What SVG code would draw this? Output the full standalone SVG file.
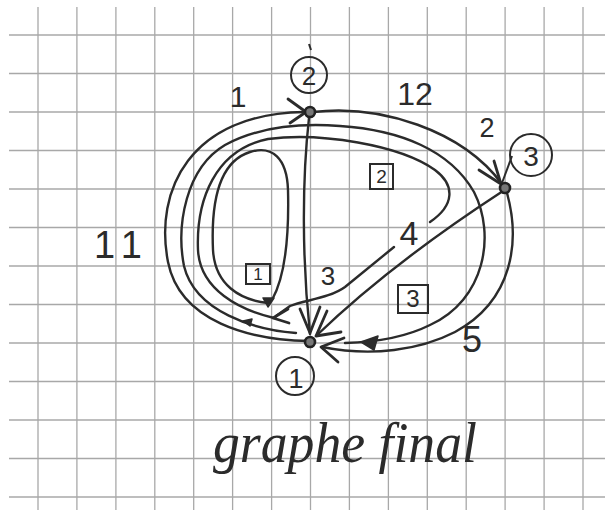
<svg xmlns="http://www.w3.org/2000/svg" width="605" height="510" viewBox="0 0 605 510">
<style>
.grid line{stroke:#a8a8a8;stroke-width:1.3}
.ln{fill:none;stroke:#2b2b2b;stroke-width:2.4;stroke-linecap:round;stroke-linejoin:round}
.ah{fill:none;stroke:#2b2b2b;stroke-width:2.8;stroke-linecap:round;stroke-linejoin:round}
.fh{fill:#2b2b2b;stroke:#2b2b2b;stroke-width:1.5;stroke-linejoin:round}
.dot{fill:#777;stroke:#222;stroke-width:2.6}
.lab{fill:none;stroke:#2b2b2b;stroke-width:2}
.t{font-family:"Liberation Sans",Arial,sans-serif;fill:#2b2b2b;text-anchor:middle}
.hw{font-family:"Liberation Serif","Times New Roman",serif;font-style:italic;fill:#2b2b2b}
</style>
<rect width="605" height="510" fill="#ffffff"/>
<g class="grid">
<line x1="9" y1="35" x2="605" y2="35"/><line x1="9" y1="73.5" x2="605" y2="73.5"/><line x1="9" y1="112" x2="605" y2="112"/><line x1="9" y1="150.5" x2="605" y2="150.5"/><line x1="9" y1="189" x2="605" y2="189"/><line x1="9" y1="227.5" x2="605" y2="227.5"/><line x1="9" y1="266" x2="605" y2="266"/><line x1="9" y1="304.5" x2="605" y2="304.5"/><line x1="9" y1="343" x2="605" y2="343"/><line x1="9" y1="381.5" x2="605" y2="381.5"/><line x1="9" y1="420" x2="605" y2="420"/><line x1="9" y1="458.5" x2="605" y2="458.5"/><line x1="9" y1="497" x2="605" y2="497"/>
<line x1="38" y1="7" x2="38" y2="510"/><line x1="76.9" y1="7" x2="76.9" y2="510"/><line x1="115.9" y1="7" x2="115.9" y2="510"/><line x1="154.8" y1="7" x2="154.8" y2="510"/><line x1="193.7" y1="7" x2="193.7" y2="510"/><line x1="232.6" y1="7" x2="232.6" y2="510"/><line x1="271.6" y1="7" x2="271.6" y2="510"/><line x1="310.5" y1="7" x2="310.5" y2="510"/><line x1="349.4" y1="7" x2="349.4" y2="510"/><line x1="388.4" y1="7" x2="388.4" y2="510"/><line x1="427.3" y1="7" x2="427.3" y2="510"/><line x1="466.2" y1="7" x2="466.2" y2="510"/><line x1="505.1" y1="7" x2="505.1" y2="510"/><line x1="544.1" y1="7" x2="544.1" y2="510"/><line x1="583" y1="7" x2="583" y2="510"/>
</g>
<g id="connectors">
<path id="arc1" class="ln" d="M309,341 C250,340 180,322 168,262 C154,190 190,114 304,112"/>
<path class="ah" d="M288,99 L306,112 L290,123"/>
<path id="arc2" class="ln" d="M313,112 C380,104 462,130 502,184"/>
<path class="ah" d="M479,170 L501,184 L494,161"/>
<path id="arc3" class="ln" d="M309,118 C302,180 302,260 310,334"/>
<path class="ah" d="M300,309 L310,333 L320,307"/>
<path id="arc4" class="ln" d="M503,191 C440,232 372,282 316,336"/>
<path class="ah" d="M327,311 L316,336 L341,332"/>
<path id="arc5" class="ln" d="M507,193 C520,240 514,300 455,332 C420,350 372,357 322,347"/>
<path class="ah" d="M344,338 L321,347 L338,362"/>
<path id="cycle3" class="ln" d="M296,333 C255,330 195,312 184,266 C176,225 186,168 225,145 C260,126 300,123 340,126 C400,130 450,150 474,192 C496,235 485,300 430,325 C410,335 385,342 345,343"/>
<path class="fh" d="M361,342 L378,336 L374,350 Z"/>
<path class="fh" d="M243,321 L252,319 L250,326 Z"/>
<path id="cycle2" class="ln" d="M274,318 C240,310 200,290 198,250 C196,200 215,150 268,139 C320,132 400,145 435,170 C455,185 455,205 430,222"/>
<path class="ln" d="M394,247 L345,287 C330,298 305,300 290,306 L276,316"/>
<path class="ah" d="M288,309 L273,318 L289,323"/>
<path id="cycle1" class="ln" d="M268,303 C240,300 215,285 213,250 C211,205 218,162 250,152 C272,145 287,158 288,190 C289,230 286,275 272,300"/>
<path class="fh" d="M263,298 L274,298 L268,307 Z"/>
</g>
<g id="node1">
<circle class="dot" cx="310" cy="342" r="5"/>
<circle class="lab" cx="295" cy="376" r="19"/>
<text class="t" x="296" y="388" font-size="27">1</text>
</g>
<g id="node2">
<circle class="dot" cx="310" cy="112" r="5"/>
<circle class="lab" cx="309" cy="75" r="18"/>
<path class="lab" d="M309,44 L311,50"/>
<text class="t" x="309" y="85" font-size="26">2</text>
</g>
<g id="node3">
<circle class="dot" cx="505" cy="188" r="5"/>
<circle class="lab" cx="531" cy="155" r="21"/>
<path class="lab" d="M512,156 L502,183"/>
<text class="t" x="531" y="166" font-size="28">3</text>
</g>
<g id="labels">
<text class="t" x="238" y="107" font-size="30">1</text>
<text class="t" x="415" y="105" font-size="32">12</text>
<text class="t" x="487" y="137" font-size="27">2</text>
<text class="t" x="328" y="285" font-size="26">3</text>
<text class="t" x="409" y="245" font-size="34">4</text>
<text class="t" x="472" y="352" font-size="36">5</text>
<text class="t" x="118" y="258" font-size="38" textLength="48">11</text>
<rect class="lab" x="246" y="264" width="24" height="20"/>
<text class="t" x="258" y="280" font-size="17">1</text>
<rect class="lab" x="370" y="164" width="23" height="25"/>
<text class="t" x="381.5" y="183" font-size="19">2</text>
<rect class="lab" x="398" y="285" width="30" height="28"/>
<text class="t" x="413" y="307" font-size="24">3</text>
<text class="hw" x="213" y="462" font-size="58" textLength="264" lengthAdjust="spacingAndGlyphs">graphe final</text>
</g>
</svg>
